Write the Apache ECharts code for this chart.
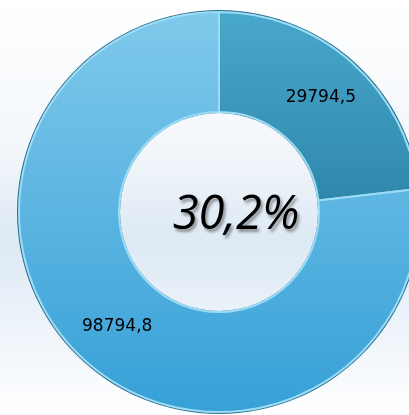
<!DOCTYPE html>
<html>
<head>
<meta charset="utf-8">
<script src="https://cdn.jsdelivr.net/npm/echarts@6/dist/echarts.min.js"></script>
<style>
  html, body { margin: 0; padding: 0; }
  body {
    width: 409px; height: 415px; overflow: hidden;
    background: linear-gradient(to bottom, #ffffff 0%, #f3f7fb 35%, #dde9f4 58%, #eef4fa 80%, #ffffff 100%);
  }
  #chart { width: 409px; height: 415px; }
</style>
</head>
<body>
<div id="chart"></div>
<script>
// slice names and values
const names = ["A", "B"];
const values = [29794.5, 98794.8];
const centerText = "30,2%";

const sliceColors = [
  ["#48a8cc", "#2f88ab"],
  ["#80c9eb", "#36a0d7"]
];

const chart = echarts.init(document.getElementById("chart"));

const fmt = v => String(v).replace(".", ",");

chart.setOption({
  backgroundColor: "transparent",
  animation: false,
  title: {
    text: centerText,
    left: 231,
    top: 211,
    textAlign: "center",
    textVerticalAlign: "middle",
    textStyle: {
      fontFamily: "Open Sans",
      fontStyle: "italic",
      fontWeight: 500,
      fontSize: 47,
      color: "#000",
      textShadowColor: "rgba(0,0,0,0.4)",
      textShadowBlur: 3,
      textShadowOffsetX: 2,
      textShadowOffsetY: 3
    }
  },
  series: [
    {
      type: "pie",
      center: [219, 212],
      radius: [99, 202],
      startAngle: 90,
      clockwise: true,
      silent: true,
      itemStyle: { color: "#2a6f8f" },
      label: { show: false },
      data: [{ value: 1 }]
    },
    {
      type: "pie",
      center: [219, 212],
      radius: [100, 200],
      startAngle: 90,
      clockwise: true,
      silent: true,
      label: {
        show: true,
        position: "inside",
        fontFamily: "DejaVu Sans",
        fontSize: 17,
        color: "#000",
        formatter: p => fmt(p.value)
      },
      labelLine: { show: false },
      data: names.map((n, i) => ({
        name: n,
        value: values[i],
        itemStyle: {
          color: {
            type: "linear", x: 0, y: 0, x2: 0, y2: 1,
            colorStops: [
              { offset: 0, color: sliceColors[i][0] },
              { offset: 1, color: sliceColors[i][1] }
            ]
          },
          borderColor: "#9ddcf5",
          borderWidth: 2
        }
      }))
    }
  ]
});
</script>
</body>
</html>
